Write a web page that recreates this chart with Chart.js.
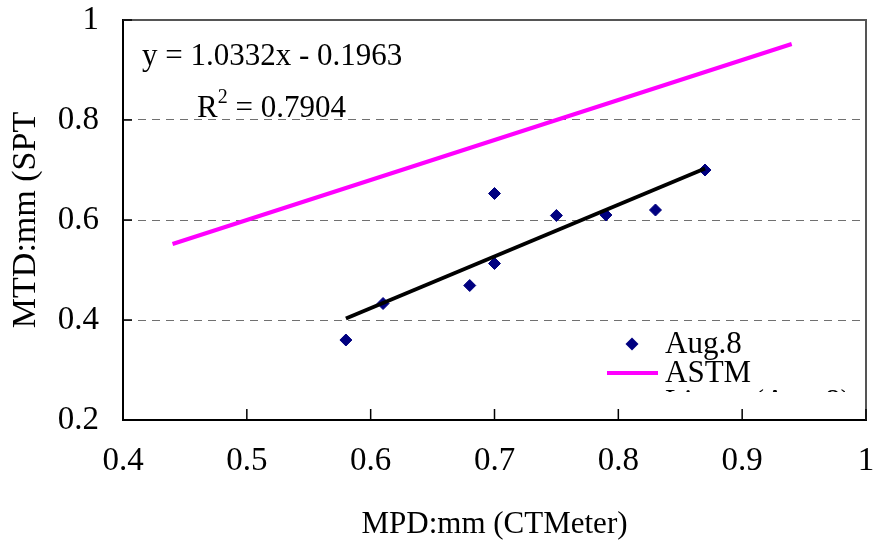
<!DOCTYPE html>
<html>
<head>
<meta charset="utf-8">
<script src="https://cdn.jsdelivr.net/npm/chart.js@4.4.0/dist/chart.umd.min.js"></script>
<style>
  html, body { margin: 0; padding: 0; background: #fff; }
  #wrap { width: 873px; height: 546px; }
</style>
</head>
<body>
<div id="wrap"><canvas id="chart" width="873" height="546"></canvas></div>
<script>
// --- data ---
const augX = [0.58, 0.61, 0.68, 0.70, 0.70, 0.75, 0.79, 0.83, 0.87];
const augY = [0.36, 0.433, 0.469, 0.513, 0.653, 0.609, 0.61, 0.62, 0.70];

const astmX = [0.44, 0.54, 0.64, 0.74, 0.84, 0.94];
const astmY = [0.552, 0.632, 0.712, 0.792, 0.872, 0.952];

const trendX = [0.58, 0.87];
const trendY = [0.403, 0.703];

const xTicks = [0.4, 0.5, 0.6, 0.7, 0.8, 0.9, 1];
const yTicks = [0.2, 0.4, 0.6, 0.8, 1];

const eqText = 'y = 1.0332x - 0.1963';
const r2Text = ' = 0.7904';
const legendNames = ['Aug.8', 'ASTM', 'Linear (Aug.8)'];

const NAVY = '#000080';
const MAGENTA = '#ff00ff';
const SERIF = "'Liberation Serif', 'Times New Roman', serif";

const toPts = (xs, ys) => xs.map((v, i) => ({ x: v, y: ys[i] }));

// frame, inward ticks, equation and legend box
const decor = {
    id: 'decor',
    afterDatasetsDraw(chart) {
        const { ctx, chartArea: a, scales: { x, y } } = chart;
        ctx.save();

        // top and right edge of the plot frame
        ctx.strokeStyle = '#555';
        ctx.lineWidth = 2;
        ctx.beginPath();
        ctx.moveTo(a.left, a.top); ctx.lineTo(a.right, a.top); ctx.lineTo(a.right, a.bottom);
        ctx.stroke();

        // tick marks pointing inside
        ctx.strokeStyle = '#000';
        ctx.lineWidth = 1.5;
        ctx.beginPath();
        xTicks.forEach(v => {
            const px = x.getPixelForValue(v);
            ctx.moveTo(px, a.bottom); ctx.lineTo(px, a.bottom - 11);
        });
        yTicks.forEach(v => {
            const py = y.getPixelForValue(v);
            ctx.moveTo(a.left, py); ctx.lineTo(a.left + 9, py);
        });
        ctx.stroke();

        // regression text
        ctx.fillStyle = '#000';
        ctx.textBaseline = 'alphabetic';
        ctx.textAlign = 'left';
        ctx.font = '31px ' + SERIF;
        ctx.fillText(eqText, 142, 65);
        ctx.fillText('R', 197, 117);
        let rx = 197 + ctx.measureText('R').width;
        ctx.font = '20px ' + SERIF;
        ctx.fillText('2', rx, 103);
        rx += ctx.measureText('2').width;
        ctx.font = '31px ' + SERIF;
        ctx.fillText(r2Text, rx, 117);

        // legend box (last entry is cut off at the bottom, as in the original)
        const lg = { left: 590, top: 322, right: 845, bottom: 392 };
        ctx.fillStyle = '#fff';
        ctx.fillRect(lg.left, lg.top, lg.right - lg.left, lg.bottom - lg.top);
        ctx.beginPath();
        ctx.rect(lg.left, lg.top, lg.right - lg.left, lg.bottom - lg.top);
        ctx.clip();

        // entry 1: diamond
        ctx.fillStyle = NAVY;
        ctx.beginPath();
        ctx.moveTo(632 - 6.5, 344); ctx.lineTo(632, 344 - 6.5);
        ctx.lineTo(632 + 6.5, 344); ctx.lineTo(632, 344 + 6.5);
        ctx.closePath();
        ctx.fill();
        // entry 2: magenta line
        ctx.strokeStyle = MAGENTA;
        ctx.lineWidth = 4;
        ctx.beginPath();
        ctx.moveTo(607, 373); ctx.lineTo(658, 373);
        ctx.stroke();

        ctx.fillStyle = '#000';
        ctx.font = '31px ' + SERIF;
        ctx.fillText(legendNames[0], 665, 353);
        ctx.fillText(legendNames[1], 665, 382);
        ctx.fillText(legendNames[2], 665, 411);

        ctx.restore();
    }
};

const chart = new Chart(document.getElementById('chart').getContext('2d'), {
    type: 'scatter',
    data: {
        datasets: [
            {
                label: legendNames[0], data: toPts(augX, augY), order: 2,
                pointStyle: 'rectRot', radius: 6, borderWidth: 1,
                backgroundColor: NAVY, borderColor: NAVY
            },
            {
                label: legendNames[1], data: toPts(astmX, astmY), order: 1,
                showLine: true, pointRadius: 0, borderColor: MAGENTA, borderWidth: 4
            },
            {
                label: legendNames[2], data: toPts(trendX, trendY), order: 0,
                showLine: true, pointRadius: 0, borderColor: '#000', borderWidth: 4
            }
        ]
    },
    options: {
        responsive: false, animation: false, devicePixelRatio: 1,
        layout: { padding: 0 },
        plugins: { legend: { display: false }, tooltip: { enabled: false } },
        scales: {
            x: {
                type: 'linear', min: 0.4, max: 1,
                afterFit: s => { s.height = 126; s.paddingLeft = 0; s.paddingRight = 7; },
                afterBuildTicks: s => { s.ticks = xTicks.map(v => ({ value: v })); },
                grid: { display: false, drawTicks: false },
                border: { display: true, color: '#000', width: 2 },
                ticks: { padding: 22, color: '#000', font: { size: 33, family: SERIF }, maxRotation: 0,
                         callback: v => String(+v.toFixed(1)) },
                title: { display: true, text: 'MPD:mm (CTMeter)', color: '#000',
                         font: { size: 31, family: SERIF }, padding: { top: 0, bottom: 3 } }
            },
            y: {
                type: 'linear', min: 0.2, max: 1,
                afterFit: s => { s.width = 123; s.paddingTop = 20; s.paddingBottom = 0; },
                afterBuildTicks: s => { s.ticks = yTicks.map(v => ({ value: v })); },
                grid: {
                    drawTicks: false, lineWidth: 1,
                    color: c => (c.tick && (c.tick.value <= 0.21 || c.tick.value >= 0.99)) ? 'rgba(0,0,0,0)' : '#707070'
                },
                border: { display: true, color: '#000', width: 2, dash: [8, 6] },
                ticks: { padding: 24, color: '#000', font: { size: 33, family: SERIF },
                         callback: v => String(+v.toFixed(1)) },
                title: { display: true, text: 'MTD:mm (SPT', color: '#000',
                         font: { size: 34, family: SERIF }, padding: { top: 6, bottom: 0 } }
            }
        }
    },
    plugins: [decor]
});
</script>
</body>
</html>
